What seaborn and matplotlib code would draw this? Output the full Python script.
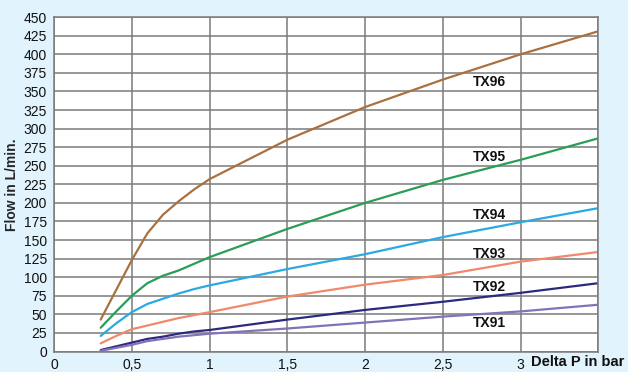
# Flow vs pressure drop for TX91..TX96
import pandas as pd
import seaborn as sns
import matplotlib.pyplot as plt

delta_p = [0.3, 0.4, 0.5, 0.6, 0.7, 0.8, 0.9, 1.0, 1.5, 2.0, 2.5, 3.0, 3.5]
tx96 = [43, 83, 123, 159, 184, 202, 218, 232, 285, 329, 366, 400, 431]
tx95 = [32, 54, 75, 92, 102, 109, 118, 127, 165, 200, 231, 258, 287]
tx94 = [21, 38, 53, 64, 71, 78, 84, 89, 111, 131, 154, 174, 193]
tx93 = [11, 21, 30, 35, 40, 45, 49, 53, 74, 90, 103, 121, 134]
tx92 = [2, 7, 12, 17, 20, 24, 27, 29, 43, 56, 67, 79, 92]
tx91 = [1, 5, 9, 14, 17, 20, 22, 24, 31, 39, 47, 54, 63]

models = ["TX96", "TX95", "TX94", "TX93", "TX92", "TX91"]
colors = ["#a8713f", "#2a9d58", "#2aaae2", "#f0896b", "#2b2a7e", "#8272b8"]
label_y = [363, 262, 184, 131, 87, 38]

df = pd.concat([
    pd.DataFrame({"dp": delta_p, "flow": vals, "model": m})
    for m, vals in zip(models, [tx96, tx95, tx94, tx93, tx92, tx91])
])

sns.set_style("white")
plt.rcParams["font.family"] = ["Liberation Sans", "DejaVu Sans"]

fig = plt.figure(figsize=(6.28, 3.72), dpi=100)
fig.patch.set_facecolor("#e1f3fc")
ax = fig.add_axes([0.086, 0.055, 0.867, 0.899])
ax.set_facecolor("white")

sns.lineplot(data=df, x="dp", y="flow", hue="model", palette=dict(zip(models, colors)),
             linewidth=1.6, legend=False, ax=ax)

ax.set_xlim(0, 3.5)
ax.set_ylim(0, 450)
ax.set_xticks([0, 0.5, 1, 1.5, 2, 2.5, 3, 3.5])
ax.set_xticklabels(["0", "0,5", "1", "1,5", "2", "2,5", "3", ""])
ax.set_yticks(range(0, 451, 25))
ax.tick_params(length=0, labelsize=10, colors="#111111")
ax.tick_params(axis="x", pad=5)
ax.tick_params(axis="y", pad=5)
ax.grid(True, color="#7a7a7a", linewidth=1.1)
for s in ax.spines.values():
    s.set_color("#7a7a7a")
    s.set_linewidth(1.1)

for m, y in zip(models, label_y):
    ax.text(2.8, y, m, ha="center", va="center", fontsize=10, fontweight="bold", color="#111111")

ax.set_xlabel("")
ax.set_ylabel("Flow in L/min.", fontsize=10, fontweight="bold", labelpad=3)
fig.text(0.845, 0.016, "Delta P in bar", fontsize=10.5, fontweight="bold", color="#111111")

fig.savefig("out.png", dpi=100, facecolor=fig.get_facecolor())
